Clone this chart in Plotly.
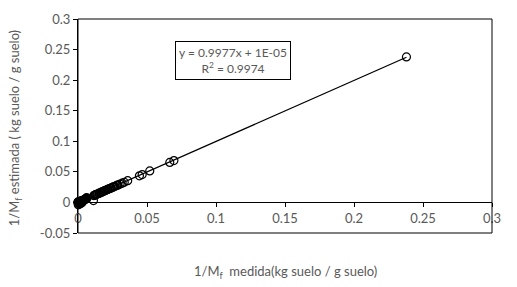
import plotly.graph_objects as go

x_measured = [0.238, 0.0695, 0.0665, 0.052, 0.0465, 0.0445, 0.036, 0.0335, 0.032, 0.0305,
              0.029, 0.0278, 0.0265, 0.0252, 0.024, 0.023, 0.022, 0.021, 0.02, 0.019,
              0.018, 0.017, 0.016, 0.015, 0.014, 0.013, 0.0115, 0.0112, 0.0065, 0.0055,
              0.0045, 0.0038, 0.003, 0.0025, 0.002, 0.0016, 0.0012, 0.0009, 0.0006,
              0.0004, 0.0002, 0.0001, 0.0285, 0.0258, 0.0235, 0.0215, 0.0195, 0.0175,
              0.0155, 0.0135, 0.0125, 0.0118, 0.0058, 0.0048, 0.0035, 0.0022, 0.0014,
              0.0007, 0.0003, 0.0, 0.0, 0.0005, 0.001, 0.0018, 0.0027, 0.0041, 0.0052,
              0.0008, 0.0015, 0.0025, 0.0002, 0.0032, 0.0062]
y_estimated = [0.238, 0.0685, 0.0655, 0.0515, 0.0455, 0.0435, 0.0355, 0.033, 0.0315, 0.030,
               0.0285, 0.0275, 0.026, 0.025, 0.0238, 0.0228, 0.0218, 0.0208, 0.0198, 0.0188,
               0.0178, 0.0168, 0.0158, 0.0148, 0.0138, 0.0128, 0.0112, 0.0030, 0.0068, 0.0052,
               0.0042, 0.0035, 0.0028, 0.0022, 0.0018, 0.0014, 0.0010, 0.0006, 0.0004,
               0.0002, 0.0, 0.0001, 0.0282, 0.0255, 0.0232, 0.0212, 0.0193, 0.0172,
               0.0152, 0.0132, 0.0122, 0.0115, 0.0062, 0.0045, 0.0032, 0.0025, 0.0011,
               0.0009, 0.0001, -0.0005, 0.0008, 0.0, 0.0014, 0.0021, 0.0023, 0.0038, 0.0055,
               -0.003, -0.002, -0.001, -0.004, 0.0005, 0.0078]

slope = 0.9977
intercept = 1e-05
trend_x = [0.0, 0.238]
trend_y = [slope * v + intercept for v in trend_x]

tick_vals = [-0.05, 0, 0.05, 0.1, 0.15, 0.2, 0.25, 0.3]
tick_text = ["-0.05", "0", "0.05", "0.1", "0.15", "0.2", "0.25", "0.3"]
xtick_vals = [0, 0.05, 0.1, 0.15, 0.2, 0.25, 0.3]
xtick_text = ["0", "0.05", "0.1", "0.15", "0.2", "0.25", "0.3"]

FONT = "Lato"
GRAY = "#595959"

fig = go.Figure()
fig.add_trace(go.Scatter(x=trend_x, y=trend_y, mode="lines",
                         line=dict(color="black", width=1.3), showlegend=False))
fig.add_trace(go.Scatter(x=x_measured, y=y_estimated, mode="markers",
                         marker=dict(symbol="circle-open", size=8, color="black",
                                     line=dict(width=1.2, color="black")),
                         showlegend=False, cliponaxis=False))

fig.update_layout(
    width=517, height=287,
    margin=dict(l=78, r=25, t=19, b=54, autoexpand=False),
    paper_bgcolor="white", plot_bgcolor="white",
    font=dict(family=FONT, size=13, color=GRAY),
    xaxis=dict(range=[0, 0.3], tickvals=xtick_vals, ticktext=xtick_text,
               showgrid=False, zeroline=False, showline=True, linecolor="black", linewidth=1,
               ticks="outside", ticklen=4, tickcolor="black", automargin=False,
               anchor="free", position=0.05 / 0.35,
               tickfont=dict(family=FONT, size=13, color=GRAY)),
    yaxis=dict(range=[-0.05, 0.3], tickvals=tick_vals, ticktext=tick_text,
               showgrid=False, zeroline=False, showline=True, linecolor="black", linewidth=1,
               ticks="outside", ticklen=4, tickcolor="black", automargin=False,
               tickfont=dict(family=FONT, size=13, color=GRAY)),
    shapes=[dict(type="rect", xref="paper", yref="paper", x0=0, x1=1, y0=0, y1=1,
                 line=dict(color="black", width=1))],
    annotations=[
        dict(text="y = 0.9977x + 1E-05<br>R<sup>2</sup> = 0.9974", x=0.112, y=0.232,
             xref="x", yref="y", showarrow=False, align="center",
             font=dict(family=FONT, size=12, color=GRAY),
             bordercolor="black", borderwidth=1, borderpad=3, bgcolor="white"),
        dict(text="1/M<sub>f</sub>  medida(kg suelo / g suelo)", x=0.5, y=-0.18,
             xref="paper", yref="paper", xanchor="center", yanchor="middle", showarrow=False,
             font=dict(family=FONT, size=13, color=GRAY)),
        dict(text="1/M<sub>f</sub> estimada ( kg suelo / g suelo)", x=-0.152, y=0.49,
             xref="paper", yref="paper", xanchor="center", yanchor="middle", showarrow=False,
             textangle=-90, font=dict(family=FONT, size=13, color=GRAY)),
    ],
)

fig.write_html("out.html", config={"displayModeBar": False},
               post_script="document.body.style.margin='0';")
